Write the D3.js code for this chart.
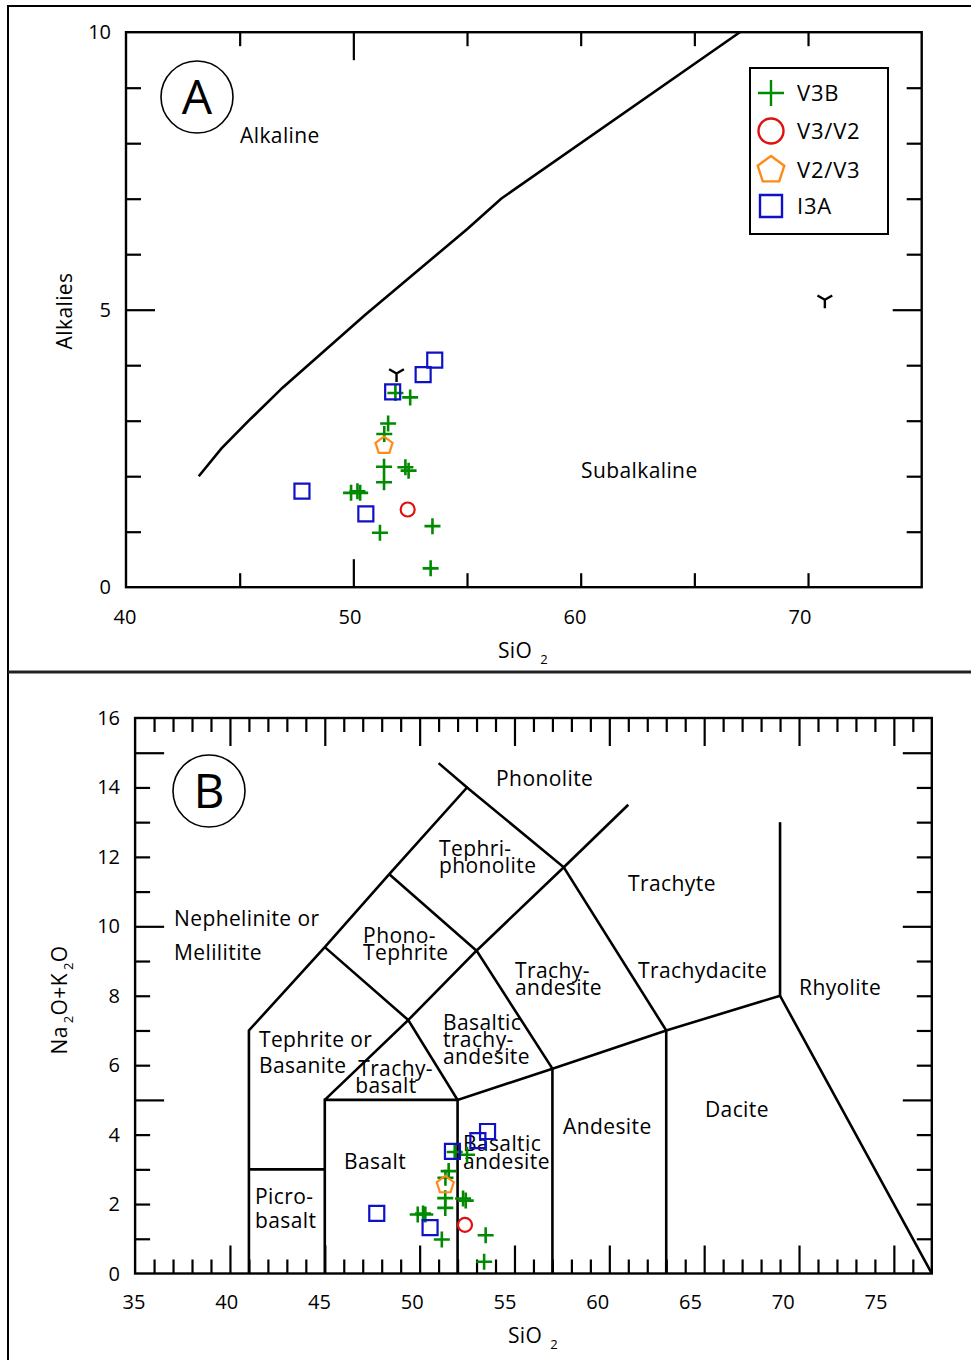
<!DOCTYPE html>
<html>
<head>
<meta charset="utf-8">
<script src="https://cdn.jsdelivr.net/npm/d3@7"></script>
<style>
  body { margin: 0; background: #fff; }
  svg { display: block; font-family: "Open Sans", sans-serif; }
</style>
</head>
<body>
<svg id="chart" width="971" height="1360"></svg>
<script>
// samples: [SiO2, Na2O+K2O]
const v3b = [[51.85,3.50],[52.50,3.42],[51.53,2.95],[51.36,2.76],[51.35,2.17],[52.29,2.16],[52.43,2.10],
             [51.35,1.89],[50.18,1.73],[49.90,1.70],[50.30,1.70],[51.17,0.98],[53.48,1.10],[53.40,0.34]];
const v3v2 = [[52.39,1.40]];
const v2v3 = [[51.35,2.55]];
const i3a = [[53.58,4.09],[53.07,3.83],[51.73,3.52],[47.74,1.73],[50.55,1.32]];
const strayA = [[51.9,3.85],[70.74,5.18]];   // black "Y" marks, only on plot A

// alkaline / subalkaline divide (plot A)
const divideA = [[43.2,2.0],[44.2,2.5],[45.4,3.0],[46.9,3.6],[50.5,4.9],[55.0,6.45],[56.5,7.0],[67.0,10.0]];

// TAS field boundaries (plot B)
const tasLines = [
  [[41,0],[41,7],[45,9.4],[48.4,11.5],[52.5,14],[57.6,11.7],[63,7],[69,8],[77,0]],
  [[41,3],[45,3]],
  [[45,0],[45,5],[52,5],[52,0]],
  [[45,5],[49.4,7.3],[52,5],[57,5.9],[63,7]],
  [[57,0],[57,5.9]],
  [[63,0],[63,7]],
  [[45,9.4],[49.4,7.3],[53,9.3],[57,5.9]],
  [[48.4,11.5],[53,9.3],[57.6,11.7]],
  [[52.5,14],[51,14.7]],
  [[57.6,11.7],[61,13.5]],
  [[69,8],[69,13]]
];
// field names: text lines, [SiO2, alkalies] of the first line, gap between lines (px)
const tasNames = [
  {t:["Phonolite"], at:[54.03,14.24]},
  {t:["Tephri-","phonolite"], at:[51.02,12.23], gap:17},
  {t:["Trachyte"], at:[60.99,11.22]},
  {t:["Nephelinite or","Melilitite"], at:[37.05,10.21], gap:34},
  {t:["Phono-","Tephrite"], at:[47.02,9.72], gap:17},
  {t:["Trachy-","andesite"], at:[55.03,8.71], gap:17},
  {t:["Trachydacite"], at:[61.51,8.71]},
  {t:["Rhyolite"], at:[70.0,8.22]},
  {t:["Basaltic","trachy-","andesite"], at:[51.23,7.21], gap:17},
  {t:["Tephrite or","Basanite"], at:[41.53,6.72], gap:26},
  {t:["Trachy-","basalt"], at:[46.76,5.89], gap:17, indent:-3},
  {t:["Dacite"], at:[65.04,4.71]},
  {t:["Andesite"], at:[57.56,4.22]},
  {t:["Basaltic","andesite"], at:[52.28,3.73], gap:18},
  {t:["Basalt"], at:[46.01,3.21]},
  {t:["Picro-","basalt"], at:[41.32,2.2], gap:24}
];

const groups = [
  {name:"V3B",   data:v3b,  shape:"plus",     color:"#008a00"},
  {name:"V3/V2", data:v3v2, shape:"circle",   color:"#e01010"},
  {name:"V2/V3", data:v2v3, shape:"pentagon", color:"#ff8a1a"},
  {name:"I3A",   data:i3a,  shape:"square",   color:"#1010c8"}
];

const FS = 21, LS = 0.4;   // label font size / letter spacing

const svg = d3.select("#chart");

// panel frames
svg.append("path").attr("d","M8,1360V6H971").attr("fill","none").attr("stroke","#000").attr("stroke-width",2);
svg.append("line").attr("x1",8).attr("x2",971).attr("y1",672).attr("y2",672)
  .attr("stroke","#222").attr("stroke-width",3);

function markerPath(shape, s) {
  if (shape === "plus") return `M${-s},0H${s}M0,${-s}V${s}`;
  if (shape === "square") return `M${-s},${-s}H${s}V${s}H${-s}Z`;
  if (shape === "circle") return d3.arc()({innerRadius:0, outerRadius:s, startAngle:0, endAngle:2*Math.PI}).replace(/L0,0Z$/,"Z");
  if (shape === "pentagon") {
    return "M" + d3.range(5).map(i => {
      const a = -Math.PI/2 + i*2*Math.PI/5;
      return [s*Math.cos(a), s*Math.sin(a)].map(v => v.toFixed(2)).join(",");
    }).join("L") + "Z";
  }
  if (shape === "tri") return `M0,0V${s}M0,0L${-s*0.87},${-s*0.5}M0,0L${s*0.87},${-s*0.5}`;
}
const markerSize = {plus:8, square:7.5, circle:7, pentagon:9, tri:8.5};

function drawPoints(g, x, y) {
  groups.forEach(grp => {
    g.selectAll(null).data(grp.data).join("path")
      .attr("transform", d => `translate(${x(d[0])},${y(d[1])})`)
      .attr("d", markerPath(grp.shape, markerSize[grp.shape]))
      .attr("fill", "none").attr("stroke", grp.color)
      .attr("stroke-width", grp.shape === "plus" ? 2.6 : 2.2);
  });
}

function ticks(g, axisFn, scale, values, len, transform) {
  const a = g.append("g").attr("transform", transform)
    .call(axisFn(scale).tickValues(values).tickSize(len).tickFormat(""));
  a.select(".domain").remove();
  a.selectAll("line").attr("stroke","#000").attr("stroke-width",2.2);
}

function frame(g, x, y) {
  const [x0,x1] = x.range(), [y0,y1] = y.range();
  g.append("rect").attr("x",x0).attr("y",y1).attr("width",x1-x0).attr("height",y0-y1)
    .attr("fill","none").attr("stroke","#000").attr("stroke-width",2.4);
}

function panelLetter(g, cx, cy, letter) {
  g.append("circle").attr("cx",cx).attr("cy",cy).attr("r",36)
    .attr("fill","none").attr("stroke","#000").attr("stroke-width",1.6);
  g.append("text").attr("x",cx).attr("y",cy+17).attr("text-anchor","middle")
    .attr("font-size",48).text(letter);
}

function subLabel(g, x, y, parts, rotate) {
  const t = g.append("text").attr("font-size",FS).attr("letter-spacing",LS).attr("text-anchor","middle")
    .attr("transform", `translate(${x},${y})` + (rotate ? " rotate(-90)" : ""));
  parts.forEach(p => {
    if (p.sub) t.append("tspan").attr("font-size",13).attr("dx",p.dx || 3).attr("dy",6).text(p.t);
    else t.append("tspan").attr("dy", p.back ? -6 : 0).text(p.t);
  });
}

// ---------- plot A ----------
const xA = d3.scaleLinear().domain([40,75]).range([126,921.7]);
const yA = d3.scaleLinear().domain([0,10]).range([587.2,32.2]);
const xALab = d3.scaleLinear().domain([40,75]).range([125,912.5]);
const gA = svg.append("g");

const axTicksA = d3.range(45,75,5);
ticks(gA, d3.axisBottom, xA, axTicksA.filter(v => v % 25), -14, `translate(0,${yA(0)})`);
ticks(gA, d3.axisBottom, xA, axTicksA.filter(v => !(v % 25)), -28, `translate(0,${yA(0)})`);
ticks(gA, d3.axisTop, xA, axTicksA.filter(v => v % 25), -14, `translate(0,${yA(10)})`);
ticks(gA, d3.axisTop, xA, axTicksA.filter(v => !(v % 25)), -28, `translate(0,${yA(10)})`);
const ayTicksA = d3.range(1,10);
ticks(gA, d3.axisLeft, yA, ayTicksA.filter(v => v % 5), -15, `translate(${xA(40)},0)`);
ticks(gA, d3.axisLeft, yA, ayTicksA.filter(v => !(v % 5)), -29, `translate(${xA(40)},0)`);
ticks(gA, d3.axisRight, yA, ayTicksA.filter(v => v % 5), -15, `translate(${xA(75)},0)`);
ticks(gA, d3.axisRight, yA, ayTicksA.filter(v => !(v % 5)), -29, `translate(${xA(75)},0)`);
frame(gA, xA, yA);

gA.selectAll(null).data([40,50,60,70]).join("text")
  .attr("x", d => xALab(d)).attr("y", 624).attr("text-anchor","middle").attr("font-size",20).text(d => d);
gA.selectAll(null).data([0,5,10]).join("text")
  .attr("x", 111).attr("y", d => yA(d) + 7).attr("text-anchor","end").attr("font-size",20).text(d => d);

gA.append("path").datum(divideA)
  .attr("d", d3.line().x(d => xA(d[0])).y(d => yA(d[1])))
  .attr("fill","none").attr("stroke","#000").attr("stroke-width",2.6);

gA.append("text").attr("x",240).attr("y",143).attr("font-size",FS).attr("letter-spacing",LS).text("Alkaline");
gA.append("text").attr("x",581).attr("y",478).attr("font-size",FS).attr("letter-spacing",LS).text("Subalkaline");

panelLetter(gA, 197, 97, "A");

subLabel(gA, 523, 658, [{t:"SiO"},{t:"2", sub:true, dx:8}]);
subLabel(gA, 72, 311, [{t:"Alkalies"}], true);

drawPoints(gA, xA, yA);
gA.selectAll(null).data(strayA).join("path")
  .attr("transform", d => `translate(${xA(d[0])},${yA(d[1])})`)
  .attr("d", markerPath("tri", markerSize.tri))
  .attr("fill","none").attr("stroke","#000").attr("stroke-width",2.4);

// legend
const leg = gA.append("g");
leg.append("rect").attr("x",750).attr("y",68).attr("width",138).attr("height",166)
  .attr("fill","#fff").attr("stroke","#000").attr("stroke-width",2);
const legSize = {plus:13, circle:12.5, pentagon:14, square:11};
groups.forEach((grp, i) => {
  const ly = [93,131,170,206][i];
  leg.append("path").attr("transform",`translate(771,${ly})`)
    .attr("d", markerPath(grp.shape, legSize[grp.shape]))
    .attr("fill","none").attr("stroke",grp.color).attr("stroke-width",2.4);
  leg.append("text").attr("x",797).attr("y",ly+8).attr("font-size",22).attr("letter-spacing",0.8).text(grp.name);
});

// ---------- plot B ----------
const xB = d3.scaleLinear().domain([35,77]).range([135.1,931.8]);
const yB = d3.scaleLinear().domain([0,16]).range([1273.5,718]);
const xBLab = d3.scaleLinear().domain([35,77]).range([134,913.1]);
const gB = svg.append("g");

const axTicksB = d3.range(36,77);
ticks(gB, d3.axisBottom, xB, axTicksB.filter(v => v % 5), -14, `translate(0,${yB(0)})`);
ticks(gB, d3.axisBottom, xB, axTicksB.filter(v => !(v % 5)), -28, `translate(0,${yB(0)})`);
ticks(gB, d3.axisTop, xB, axTicksB.filter(v => v % 5), -14, `translate(0,${yB(16)})`);
ticks(gB, d3.axisTop, xB, axTicksB.filter(v => !(v % 5)), -28, `translate(0,${yB(16)})`);
const ayTicksB = d3.range(1,16);
ticks(gB, d3.axisLeft, yB, ayTicksB.filter(v => v % 5), -15, `translate(${xB(35)},0)`);
ticks(gB, d3.axisLeft, yB, ayTicksB.filter(v => !(v % 5)), -29, `translate(${xB(35)},0)`);
ticks(gB, d3.axisRight, yB, ayTicksB.filter(v => v % 5), -15, `translate(${xB(77)},0)`);
ticks(gB, d3.axisRight, yB, ayTicksB.filter(v => !(v % 5)), -29, `translate(${xB(77)},0)`);
frame(gB, xB, yB);

gB.selectAll(null).data(d3.range(35,80,5)).join("text")
  .attr("x", d => xBLab(d)).attr("y", 1309).attr("text-anchor","middle").attr("font-size",20).text(d => d);
gB.selectAll(null).data(d3.range(0,18,2)).join("text")
  .attr("x", 120).attr("y", d => yB(d) + 7).attr("text-anchor","end").attr("font-size",20).text(d => d);

const lineB = d3.line().x(d => xB(d[0])).y(d => yB(d[1]));
gB.selectAll(null).data(tasLines).join("path")
  .attr("d", lineB).attr("fill","none").attr("stroke","#000")
  .attr("stroke-width",2.6).attr("stroke-linejoin","miter");

tasNames.forEach(n => {
  const x0 = xB(n.at[0]);
  const t = gB.append("text").attr("font-size",FS).attr("letter-spacing",LS)
    .attr("x", x0).attr("y", yB(n.at[1]) + 7);
  n.t.forEach((s, i) => t.append("tspan").attr("x", i === 0 ? x0 : x0 + (n.indent || 0))
    .attr("dy", i === 0 ? 0 : n.gap).text(s));
});

panelLetter(gB, 209, 791, "B");

subLabel(gB, 533, 1343, [{t:"SiO"},{t:"2", sub:true, dx:8}]);
subLabel(gB, 67, 1000, [{t:"Na"},{t:"2", sub:true},{t:"O+K", back:true},{t:"2", sub:true},{t:"O", back:true}], true);

drawPoints(gB, xB, yB);
</script>
</body>
</html>
